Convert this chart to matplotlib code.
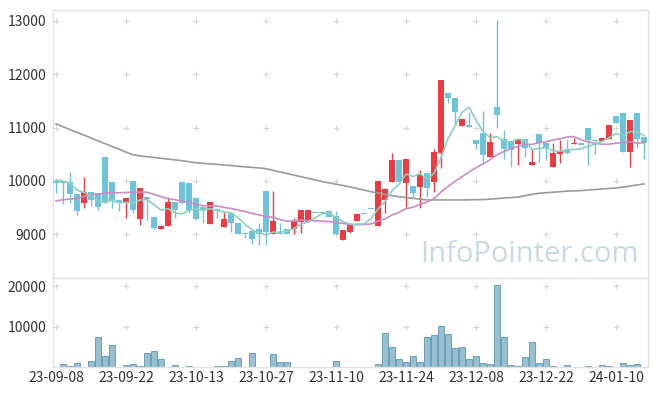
import matplotlib
matplotlib.use("Agg")
import matplotlib.pyplot as plt
import numpy as np
import pandas as pd

# daily candles, 23-09-08 .. 24-01-16 (85 trading days)
opens = [10000, 10000, 9980, 9755, 9595, 9795, 9770, 10455, 9980, 9645,
         9580, 10000, 9295, 9700, 9325, 9100, 9150, 9605, 9990, 9970,
         9680, 9515, 9200, 9475, 9145, 9405, 9215, 9025, 9065, 9095,
         9810, 9000, 9015, 9095, 9100, 9240, 9240, 9395, 9395, 9440,
         9340, 8890, 9050, 9255, 9375, 9470, 9160, 9640, 9990, 10395,
         9970, 9905, 9895, 10145, 9990, 10530, 11650, 11550, 11020, 11045,
         10770, 10905, 10440, 11385, 10780, 10750, 10695, 10780, 10305, 10875,
         10705, 10265, 10505, 10580, 10700, 10720, 11000, 10770, 10755, 10790,
         11220, 11265, 10550, 11265, 10815]
highs = [10010, 10000, 10175, 9755, 10070, 9800, 9775, 10455, 9980, 9650,
         9690, 10000, 9870, 9700, 9325, 9170, 9695, 9605, 9990, 9970,
         9680, 9515, 9605, 9475, 9425, 9405, 9215, 9025, 9065, 9210,
         9810, 9810, 9220, 9095, 9315, 9450, 9450, 9395, 9395, 9450,
         9440, 9075, 9170, 9410, 9375, 9470, 10000, 9845, 10520, 10395,
         10410, 9905, 10205, 10145, 10595, 11890, 11650, 11550, 11155, 11300,
         10770, 11310, 10895, 13015, 10955, 10750, 10785, 10780, 10595, 10875,
         10705, 10705, 10765, 10765, 10800, 10720, 11000, 10770, 10805, 11050,
         11220, 11265, 11140, 11265, 10815]
lows = [9770, 9570, 9580, 9365, 9500, 9540, 9460, 9580, 9490, 9445,
        9300, 9405, 9170, 9270, 9110, 9100, 9150, 9300, 9570, 9410,
        9270, 9210, 9200, 9300, 9130, 9045, 9000, 8940, 8815, 8800,
        8800, 9000, 9000, 9000, 9000, 9030, 9240, 9395, 9395, 9330,
        9000, 8890, 9030, 9255, 9375, 9470, 9160, 9395, 9990, 9990,
        9520, 9695, 9490, 9705, 9800, 10240, 11455, 11045, 11020, 11005,
        10595, 10360, 10440, 10985, 10420, 10265, 10300, 10455, 10305, 10360,
        10390, 10265, 10345, 10500, 10700, 10680, 10290, 10505, 10755, 10790,
        11080, 10550, 10270, 10610, 10405]
closes = [9970, 9960, 9750, 9445, 9800, 9645, 9520, 9595, 9625, 9580,
          9680, 9465, 9870, 9660, 9115, 9160, 9600, 9460, 9585, 9455,
          9295, 9465, 9605, 9445, 9290, 9220, 9000, 9005, 8915, 9000,
          9040, 9250, 9000, 9015, 9250, 9450, 9450, 9395, 9395, 9330,
          9000, 9075, 9170, 9375, 9375, 9470, 10000, 9845, 10395, 9990,
          10410, 9780, 10110, 9875, 10535, 11890, 11550, 11300, 11155, 11005,
          10690, 10485, 10730, 11235, 10595, 10580, 10785, 10625, 10355, 10705,
          10625, 10520, 10570, 10530, 10705, 10680, 10770, 10745, 10805, 11050,
          11080, 10550, 11140, 10790, 10705]
volumes = [100, 920, 420, 1170, 170, 1670, 7420, 2670, 5420, 170,
           670, 920, 420, 3420, 3920, 1920, 0, 670, 0, 420,
           0, 0, 170, 420, 420, 1670, 2170, 170, 3420, 170,
           170, 3170, 1420, 1420, 170, 0, 0, 0, 0, 0,
           1670, 0, 0, 0, 170, 0, 920, 8420, 4920, 1920,
           1420, 2670, 1420, 7420, 7920, 10080, 8170, 4670, 4920, 1920,
           2670, 1170, 920, 20170, 7420, 670, 420, 2420, 6170, 1170,
           1920, 420, 0, 670, 170, 170, 420, 170, 670, 420,
           170, 1170, 670, 920, 170]

# moving averages: first values (history before the window)
ma5_head = [10020, 10000, 9960, 9830]
ma20_head = [9625, 9650, 9660, 9675, 9710, 9740, 9755, 9770, 9780, 9780,
             9785, 9790, 9790, 9790, 9750, 9705, 9670, 9650, 9625]
ma60 = [11070, 11015, 10960, 10910, 10860, 10805, 10750, 10700, 10645, 10595,
        10540, 10490, 10470, 10455, 10440, 10425, 10410, 10395, 10380, 10360,
        10340, 10330, 10320, 10310, 10300, 10290, 10275, 10265, 10255, 10245,
        10230, 10200, 10170, 10140, 10110, 10080, 10050, 10020, 9990, 9965,
        9940, 9915, 9890, 9860, 9830, 9800, 9775, 9750, 9725, 9705,
        9690, 9675, 9660, 9645, 9645, 9645, 9645, 9645, 9645, 9648,
        9650, 9652, 9660, 9670, 9680, 9690, 9700, 9725, 9750, 9770,
        9780, 9790, 9800, 9810, 9815, 9820, 9830, 9840, 9850, 9860,
        9870, 9885, 9905, 9925, 9945]

tick_labels = ["23-09-08", "23-09-22", "23-10-13", "23-10-27", "23-11-10",
               "23-11-24", "23-12-08", "23-12-22", "24-01-10"]
price_ticks = [9000, 10000, 11000, 12000, 13000]
vol_ticks = [10000, 20000]

RED = "#ee3a40"
BLUE = "#6cc3db"
TXT = "#333333"
GRIDC = "#d6d6d6"
SPINE = "#e2e2e2"

plt.rcParams['font.family'] = ['Noto Sans CJK KR', 'DejaVu Sans']

o = np.array(opens); h = np.array(highs); l = np.array(lows); c = np.array(closes)
idx = np.arange(len(c))
s = pd.Series(c, dtype=float)
ma5 = s.rolling(5).mean().to_numpy()
ma5[:4] = ma5_head
ma20 = s.rolling(20).mean().to_numpy()
ma20[:19] = ma20_head

fig = plt.figure(figsize=(6.57, 3.96), dpi=100)
ax1 = fig.add_axes([0.0807, 0.298, 0.9056, 0.6768])
ax2 = fig.add_axes([0.0807, 0.0725, 0.9056, 0.2255], sharex=ax1)

up = c > o
cols = np.where(up, RED, BLUE)
ax1.vlines(idx, l, h, colors=cols, linewidth=1.0, zorder=2)
body_lo = np.minimum(o, c)
body_h = np.maximum(np.abs(c - o), 20)
ax1.bar(idx, body_h, bottom=body_lo, width=0.78, color=cols, linewidth=0, zorder=3)

ax1.plot(idx, ma60, color="#9a9a9a", lw=1.2, zorder=4)
ax1.plot(idx, ma20, color="#c98bc4", lw=1.2, zorder=4)
ax1.plot(idx, ma5, color="#8fcfc0", lw=1.2, zorder=4)

ax1.text(0.80, 0.088, "InfoPointer.com", transform=ax1.transAxes, ha="center",
         va="center", fontsize=21, color="#c6dae6", family=["Open Sans", "DejaVu Sans"],
         zorder=1)

ax2.bar(idx, volumes, width=0.98, color="#96bfcf", edgecolor="#6e9fb4",
        linewidth=0.7, zorder=2)

xt = np.arange(0, 81, 10)
ax1.set_xlim(-0.43, 84.57)
ax1.set_ylim(8185, 13200)
ax2.set_ylim(0, 22000)

for ax, yt in ((ax1, price_ticks), (ax2, vol_ticks)):
    gx, gy = np.meshgrid(xt, yt)
    ax.scatter(gx.ravel(), gy.ravel(), marker="+", s=14, color=GRIDC,
               linewidths=0.8, zorder=0)
    ax.set_yticks(yt)
    ax.set_yticklabels([str(v) for v in yt])
    ax.tick_params(axis="both", length=0, labelsize=10, labelcolor=TXT, pad=5)
    for sp in ax.spines.values():
        sp.set_color(SPINE)
        sp.set_linewidth(1.0)

ax2.set_xticks(xt)
ax2.set_xticklabels(tick_labels)
ax2.tick_params(axis="x", pad=3)
ax1.tick_params(axis="x", labelbottom=False)

fig.savefig("out.png", dpi=100)
